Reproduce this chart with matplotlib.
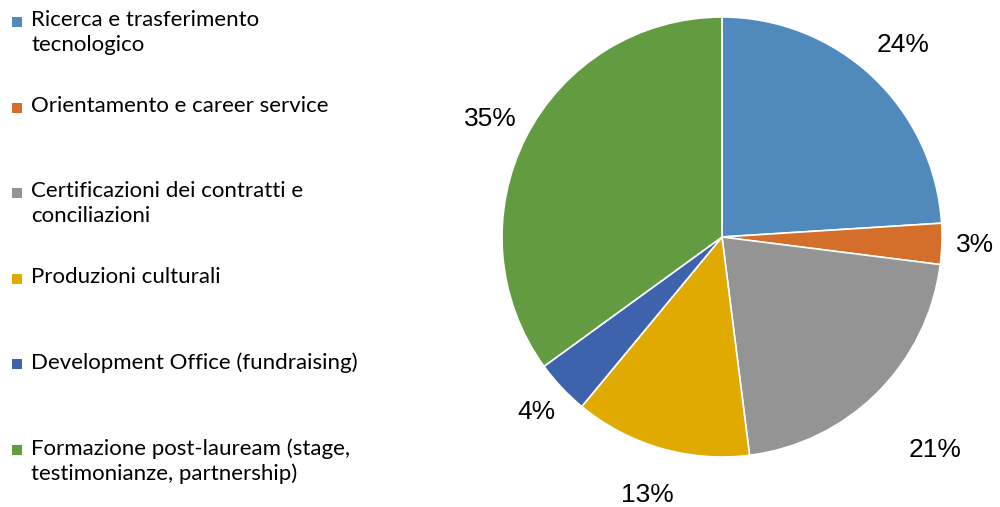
import numpy as np
import matplotlib.pyplot as plt
from matplotlib.patches import Rectangle

# -----------------------------
# Data
# -----------------------------
categories = [
    "Ricerca e trasferimento\ntecnologico",
    "Orientamento e career service",
    "Certificazioni dei contratti e\nconciliazioni",
    "Produzioni culturali",
    "Development Office (fundraising)",
    "Formazione post-lauream (stage,\ntestimonianze, partnership)",
]
values = [24, 3, 21, 13, 4, 35]
colors = ["#508ABD", "#D36F2B", "#949494", "#E0AA00", "#3C63AC", "#639B40"]
label_dist = [1.2, 1.15, 1.37, 1.22, 1.16, 1.18]

fig = plt.figure(figsize=(10, 5.07), dpi=100)

# pie
ax = fig.add_axes([0.502, 50 / 507, 0.44, 440 / 507])
wedges, _ = ax.pie(values, colors=colors, startangle=90, counterclock=False,
                   wedgeprops=dict(edgecolor="white", linewidth=1.2))
ax.set_xlim(-1, 1)
ax.set_ylim(-1, 1)
ax.set_aspect("equal")
ax.axis("off")

for w, v, d in zip(wedges, values, label_dist):
    ang = np.deg2rad((w.theta1 + w.theta2) / 2)
    ax.text(d * np.cos(ang), d * np.sin(ang), f"{v}%", ha="center", va="center",
            fontsize=19, family="Liberation Sans", clip_on=False)

# legend (drawn by hand for even spacing)
top_y = 1 - 22 / 507
step = 85.6 / 507
for i, (lab, col) in enumerate(zip(categories, colors)):
    y = top_y - i * step
    fig.patches.append(Rectangle((12 / 1000, y - 5 / 507), 10 / 1000, 10 / 507,
                                 transform=fig.transFigure, facecolor=col, edgecolor="none"))
    fig.text(31 / 1000, y + 12 / 507, lab, ha="left", va="top", fontsize=16,
             family="Lato", linespacing=1.3)

fig.savefig("out.png", dpi=100)
